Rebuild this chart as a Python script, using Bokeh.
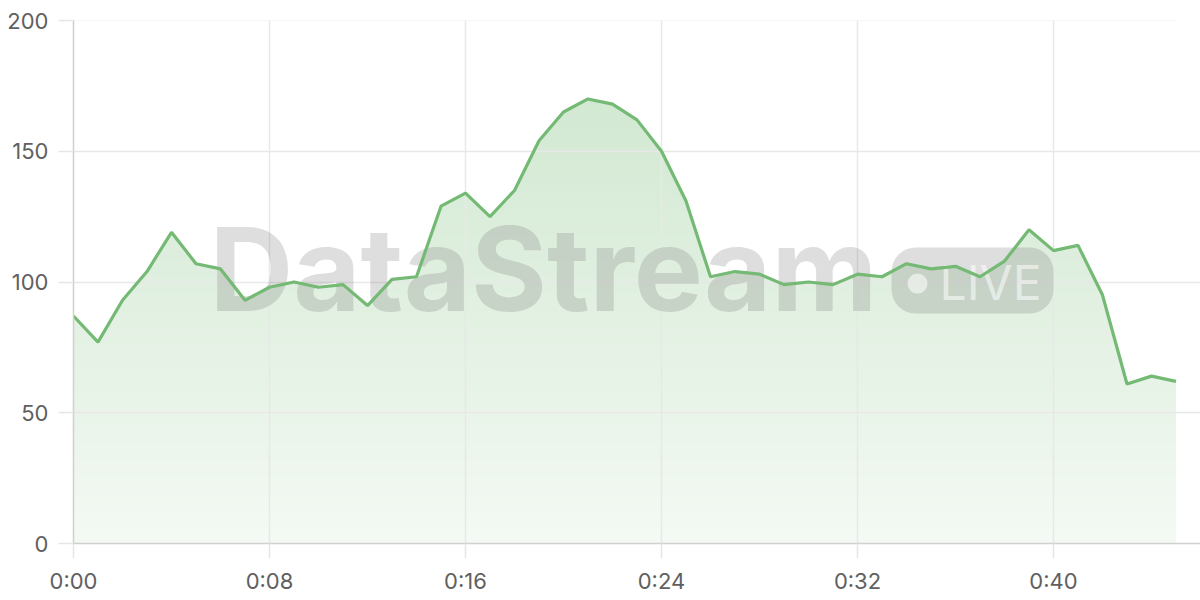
from bokeh.plotting import figure
from bokeh.models import Range1d, FixedTicker
from bokeh.core.properties import value
from bokeh.embed import file_html
from bokeh.resources import INLINE

# ---- data ----
minutes = list(range(46))
values = [87, 77, 93, 104, 119, 107, 105, 93, 98, 100,
          98, 99, 91, 101, 102, 129, 134, 125, 135, 154,
          165, 170, 168, 162, 150, 131, 102, 104, 103, 99,
          100, 99, 103, 102, 107, 105, 106, 102, 108, 120,
          112, 114, 95, 61, 64, 62]
x_ticks = [0, 8, 16, 24, 32, 40]
x_tick_labels = ["0:00", "0:08", "0:16", "0:24", "0:32", "0:40"]
y_ticks = [0, 50, 100, 150, 200]

LINE = "#74b974"
FONT = "Inter"

p = figure(width=1200, height=600, output_backend="svg", toolbar_location=None,
           x_range=Range1d(0, 46), y_range=Range1d(0, 200),
           min_border_left=73, min_border_right=0, min_border_top=20, min_border_bottom=57)
p.outline_line_color = None
p.background_fill_color = "white"

# ---- gradient fill under the line ----
x0, x1 = minutes[0], minutes[-1]
nb = 100
top_val = 200.0
lefts, rights, bottoms, tops, cols = [], [], [], [], []
r0, g0, b0 = 0x72, 0xb8, 0x72
for k in range(nb):
    lo = k * top_val / nb
    mid = lo + top_val / nb / 2
    a = 0.08 + (0.32 - 0.08) * (mid / 170.0)
    r = round(255 - a * (255 - r0)); g = round(255 - a * (255 - g0)); b = round(255 - a * (255 - b0))
    lefts.append(x0); rights.append(x1); bottoms.append(lo); tops.append(lo + top_val / nb * 1.3)
    cols.append("#%02x%02x%02x" % (r, g, b))
p.quad(left=lefts, right=rights, bottom=bottoms, top=tops, fill_color=cols,
       line_color=None, level="image")
# white mask above line
p.varea(x=minutes, y1=values, y2=[260] * len(values), fill_color="white", level="image")

# ---- watermark (drawn beneath the line) ----
p.text(x=[5.55], y=[105.0], text=["DataStream"], text_font=value(FONT), text_font_style="bold",
       text_font_size="116px", text_color="#7a7a7a", text_alpha=0.25,
       text_baseline="alphabetic", text_align="left")
p.quad(left=[33.39], right=[40.0], bottom=[87.95], top=[113.2], border_radius=24,
       fill_color="#7a7a7a", fill_alpha=0.25, line_color=None)
p.scatter(x=[34.45], y=[99.4], size=20, fill_color="white", fill_alpha=0.55, line_color=None)
p.text(x=[35.35], y=[99.8], text=["LIVE"], text_font=value(FONT), text_font_style="normal",
       text_font_size="48px", text_color="white", text_alpha=0.55,
       text_baseline="alphabetic", text_align="left")

# ---- line ----
p.line(minutes, values, line_color=LINE, line_width=3.2)

# ---- axes & grid ----
p.xaxis.ticker = FixedTicker(ticks=x_ticks)
p.xaxis.major_label_overrides = {t: l for t, l in zip(x_ticks, x_tick_labels)}
p.yaxis.ticker = FixedTicker(ticks=y_ticks)
for ax in (p.xaxis, p.yaxis):
    ax.axis_line_color = "#d0d0d0"
    ax.axis_line_width = 1.5
    ax.major_tick_line_color = "#e6e6e6"
    ax.major_tick_line_width = 1.5
    ax.major_tick_out = 15
    ax.major_tick_in = 0
    ax.minor_tick_line_color = None
    ax.major_label_text_font = FONT
    ax.major_label_text_font_size = "22px"
    ax.major_label_text_color = "#606060"
p.xaxis.major_label_standoff = 9
p.yaxis.major_label_standoff = 10
p.xgrid.ticker = FixedTicker(ticks=x_ticks)
p.ygrid.ticker = FixedTicker(ticks=y_ticks)
p.xgrid.grid_line_color = "#e8e8e8"
p.ygrid.grid_line_color = "#e8e8e8"
p.xgrid.grid_line_width = 1.5
p.ygrid.grid_line_width = 1.5

open("out.html", "w").write(file_html(p, INLINE))
